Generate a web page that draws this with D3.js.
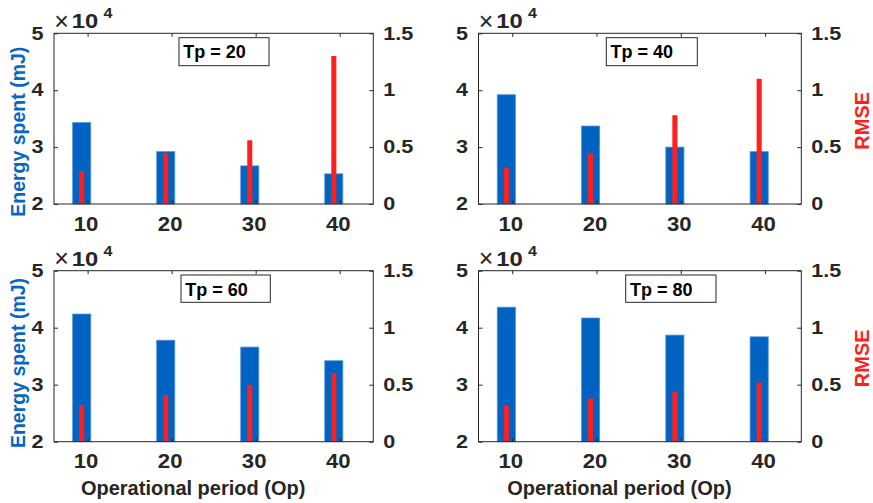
<!DOCTYPE html>
<html>
<head>
<meta charset="utf-8">
<script src="https://cdn.jsdelivr.net/npm/d3@7"></script>
<style>
  html, body { margin: 0; padding: 0; background: #fff; }
  svg { display: block; }
  text { font-family: "Liberation Sans", Arial, Helvetica, sans-serif; }
</style>
</head>
<body>
<svg id="chart" width="873" height="503"></svg>
<script>
// ---------------- DATA ----------------
const operationalPeriods = [10, 20, 30, 40];
const tpValues = [20, 40, 60, 80];
const energyTp20 = [34300, 29200, 26700, 25300];
const energyTp40 = [39200, 33700, 30000, 29200];
const energyTp60 = [42400, 37800, 36600, 34200];
const energyTp80 = [43600, 41700, 38700, 38400];
const rmseTp20 = [0.29, 0.45, 0.56, 1.30];
const rmseTp40 = [0.32, 0.44, 0.78, 1.10];
const rmseTp60 = [0.32, 0.41, 0.50, 0.60];
const rmseTp80 = [0.32, 0.38, 0.44, 0.52];
const energyTicks = [20000, 30000, 40000, 50000];
const rmseTicks = [0, 0.5, 1, 1.5];
const energyLabel = "Energy spent (mJ)";
const rmseLabel = "RMSE";
const xLabel = "Operational period (Op)";

const energySeries = [energyTp20, energyTp40, energyTp60, energyTp80];
const rmseSeries = [rmseTp20, rmseTp40, rmseTp60, rmseTp80];

// ---------------- LAYOUT (style only) ----------------
const panels = [
  { L: 54,    R: 373.3, T: 33.3,  B: 204,   xmax: 44,   box: [179, 37.7, 90, 28],   leftLabel: true,  rightLabel: false, bottomLabel: false, yLabelC: 131.7 },
  { L: 478.5, R: 801.3, T: 33.3,  B: 204,   xmax: 44.3, box: [606.3, 37.7, 91, 28], leftLabel: false, rightLabel: true,  bottomLabel: false, yLabelC: 120.8 },
  { L: 54,    R: 373.3, T: 270.7, B: 441.7, xmax: 44,   box: [181, 275, 89.3, 27.3], leftLabel: true,  rightLabel: false, bottomLabel: true,  yLabelC: 363 },
  { L: 478.5, R: 801.3, T: 270.7, B: 441.7, xmax: 44.3, box: [625.7, 275, 90.3, 27.3], leftLabel: false, rightLabel: true,  bottomLabel: true,  yLabelC: 358.3 }
];

const axisColor = "#262626";
const blue = "#0062C1";
const blueLabel = "#0766C3";
const red = "#FF1F1F";
const barOffset = -0.7;
const blueWidth = 2.15;
const redWidth = 0.6;
const ySX = 1.2;

const svg = d3.select("#chart");

panels.forEach((p, i) => {
  const x = d3.scaleLinear().domain([6, p.xmax]).range([p.L, p.R]);
  const yL = d3.scaleLinear().domain([20000, 50000]).range([p.B, p.T]);
  const yR = d3.scaleLinear().domain([0, 1.5]).range([p.B, p.T]);
  const g = svg.append("g");

  const bw = x(blueWidth) - x(0);
  const rw = x(redWidth) - x(0);

  // blue bars (left axis)
  g.selectAll("rect.e").data(operationalPeriods.map((op, k) => ({ op, v: energySeries[i][k] })))
    .enter().append("rect")
    .attr("x", d => x(d.op + barOffset) - bw / 2)
    .attr("y", d => yL(d.v))
    .attr("width", bw)
    .attr("height", d => yL(20000) - yL(d.v))
    .attr("fill", blue)
    .attr("stroke", "#4f92dc")
    .attr("stroke-width", 0.8);

  // red bars (right axis)
  g.selectAll("rect.r").data(operationalPeriods.map((op, k) => ({ op, v: rmseSeries[i][k] })))
    .enter().append("rect")
    .attr("x", d => x(d.op + barOffset) - rw / 2)
    .attr("y", d => yR(d.v))
    .attr("width", rw)
    .attr("height", d => yR(0) - yR(d.v))
    .attr("fill", red);

  // frame
  g.append("rect").attr("x", p.L).attr("y", p.T)
    .attr("width", p.R - p.L).attr("height", p.B - p.T)
    .attr("fill", "none").attr("stroke", axisColor).attr("stroke-width", 1);

  // bottom axis
  const gx = g.append("g").attr("transform", `translate(0,${p.B})`)
    .call(d3.axisBottom(x).tickValues(operationalPeriods).tickSizeInner(-3.5).tickSizeOuter(0).tickPadding(12));
  gx.select(".domain").remove();
  gx.selectAll("line").attr("stroke", axisColor);
  gx.selectAll("text").attr("fill", axisColor).attr("font-size", 20.5).attr("font-weight", "bold")
    .attr("x", -2 / 1.08).attr("transform", "scale(1.08,1)");

  // top axis ticks
  const gt = g.append("g").attr("transform", `translate(0,${p.T})`)
    .call(d3.axisTop(x).tickValues(operationalPeriods).tickSizeInner(-3.5).tickSizeOuter(0).tickFormat(""));
  gt.select(".domain").remove();
  gt.selectAll("line").attr("stroke", axisColor);

  // left axis
  const gl = g.append("g").attr("transform", `translate(${p.L},0)`)
    .call(d3.axisLeft(yL).tickValues(energyTicks).tickSizeInner(-4).tickSizeOuter(0).tickPadding(10.5)
      .tickFormat(d => String(d / 10000)));
  gl.select(".domain").remove();
  gl.selectAll("line").attr("stroke", axisColor);
  gl.selectAll("text").attr("fill", axisColor).attr("font-size", 18).attr("font-weight", "bold")
    .attr("x", -10.5 / ySX).attr("transform", `scale(${ySX},1)`);

  // right axis
  const gr = g.append("g").attr("transform", `translate(${p.R},0)`)
    .call(d3.axisRight(yR).tickValues(rmseTicks).tickSizeInner(-4).tickSizeOuter(0).tickPadding(10)
      .tickFormat(d => String(d)));
  gr.select(".domain").remove();
  gr.selectAll("line").attr("stroke", axisColor);
  gr.selectAll("text").attr("fill", axisColor).attr("font-size", 18).attr("font-weight", "bold")
    .attr("x", 10 / ySX).attr("transform", `scale(${ySX},1)`);

  // exponent label x10^4
  g.append("text").attr("x", p.L + 7.5).attr("y", p.T - 3.5)
    .attr("text-anchor", "middle").attr("font-size", 25).attr("fill", axisColor).text("×");
  g.append("text").attr("transform", `translate(${p.L + 17.7},${p.T - 5}) scale(1.22,1)`)
    .attr("font-size", 19.5).attr("font-weight", "bold").attr("fill", axisColor).text("10");
  g.append("text").attr("transform", `translate(${p.L + 49.5},${p.T - 15}) scale(1.15,1)`)
    .attr("font-size", 14).attr("font-weight", "bold").attr("fill", axisColor).text("4");

  // Tp box
  const [bx, by, bwid, bh] = p.box;
  g.append("rect").attr("x", bx).attr("y", by).attr("width", bwid).attr("height", bh)
    .attr("fill", "#fff").attr("stroke", axisColor).attr("stroke-width", 1);
  g.append("text").attr("x", bx + 4.3).attr("y", by + 20.6)
    .attr("font-size", 18).attr("font-weight", "bold").attr("fill", "#000")
    .text("Tp = " + tpValues[i]);

  if (p.leftLabel) {
    g.append("text").attr("transform", `translate(24.5,${p.yLabelC}) rotate(-90)`)
      .attr("text-anchor", "middle").attr("font-size", 19.5).attr("font-weight", "bold")
      .attr("fill", blueLabel).text(energyLabel);
  }
  if (p.rightLabel) {
    g.append("text").attr("transform", `translate(869,${p.yLabelC}) rotate(-90)`)
      .attr("text-anchor", "middle").attr("font-size", 20).attr("font-weight", "bold")
      .attr("fill", red).text(rmseLabel);
  }
  if (p.bottomLabel) {
    g.append("text").attr("x", (p.L + p.R) / 2 - 20.5).attr("y", p.B + 52.8)
      .attr("text-anchor", "middle").attr("font-size", 20).attr("font-weight", "bold")
      .attr("fill", axisColor).text(xLabel);
  }
});
</script>
</body>
</html>
